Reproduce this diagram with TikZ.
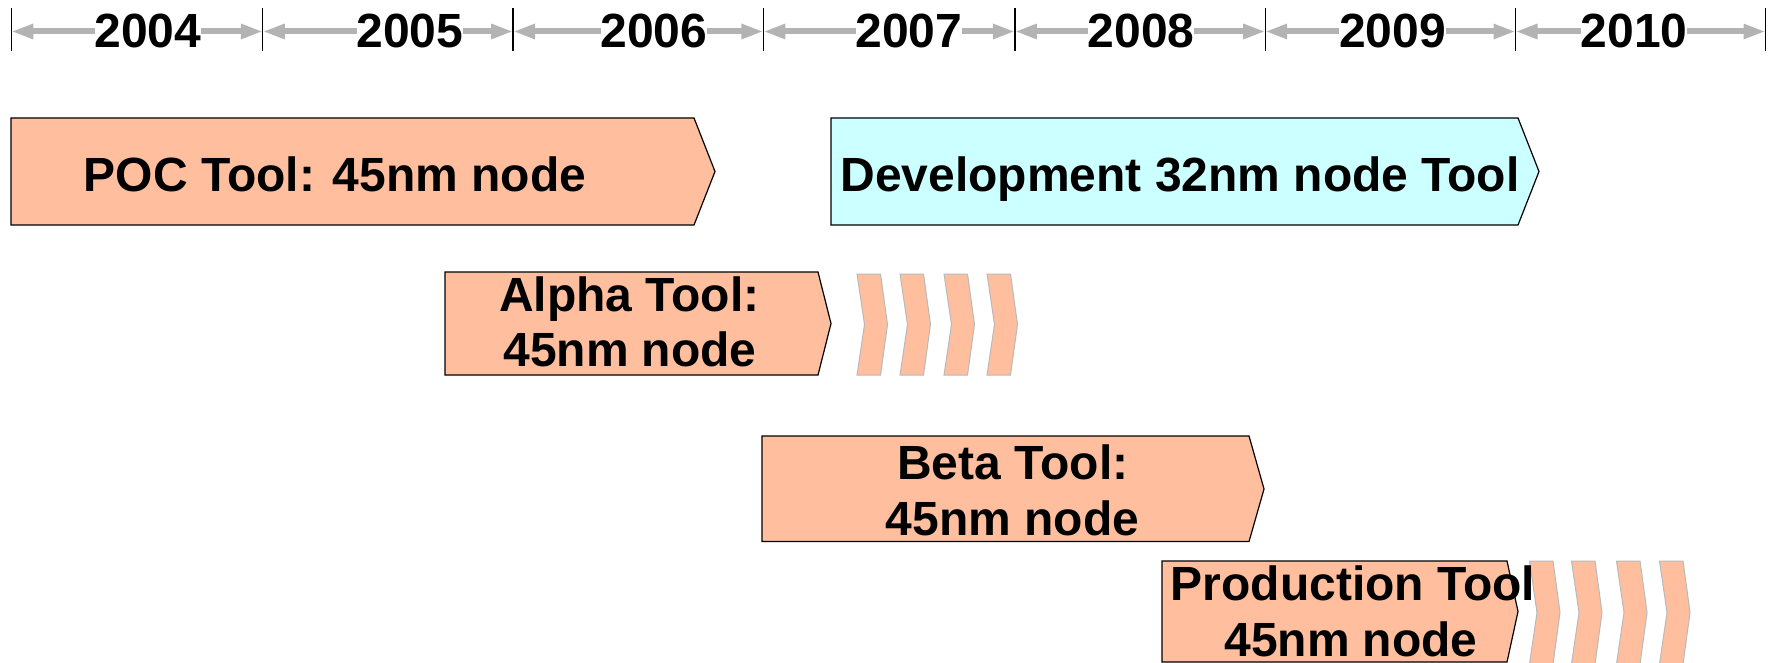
\documentclass[tikz,border=0pt]{standalone}
\usepackage{fontspec}
\setmainfont{Liberation Sans}
\usetikzlibrary{arrows.meta}
\definecolor{peach}{RGB}{255,191,159}
\definecolor{paleCyan}{RGB}{204,255,255}
\definecolor{axisgray}{RGB}{179,179,179}
\definecolor{chevgray}{RGB}{185,185,185}
\newcommand\chevshape[3]{\draw[chevron] (#1,#2) -- ({#1+23.5},#2) -- ({#1+30.5},{(#2+#3)/2}) -- ({#1+23.5},#3) -- (#1,#3) -- ({#1+7.5},{(#2+#3)/2}) -- cycle;}
\begin{document}
\begin{tikzpicture}[x=1pt,y=-1pt,
  bigfont/.style={font=\fontsize{48}{56}\selectfont\bfseries},
  yearlabel/.style={bigfont,fill=white,inner sep=0pt,anchor=base},
  boxtext/.style={bigfont,inner sep=0pt,anchor=base},
  tickline/.style={black,line width=1.3pt},
  spanarrow/.style={axisgray,line width=6pt,{Triangle[length=22pt,width=14pt]}-{Triangle[length=22pt,width=14pt]}},
  phasebox/.style={draw=black,line width=1.2pt,line join=miter},
  chevron/.style={draw=chevgray,line width=1pt,fill=peach}]
\useasboundingbox (0,0) rectangle (1776,663);
\fill[white] (0,0) rectangle (1776,663);
% timeline
\foreach \i/\x in {0/11.3,1/262.8,2/513.1,3/763.4,4/1014.9,5/1265.2,6/1515.5,7/1765.5}{
  \coordinate (t\i) at (\x,31.5);
}
\foreach \i in {0,...,7}{
  \draw[tickline] (t\i) ++(0,-23.5) -- ++(0,43);
}
\foreach \a/\b in {0/1,1/2,2/3,3/4,4/5,5/6,6/7}{
  \draw[spanarrow] (t\a) -- (t\b);
}
\node[yearlabel] (y2004) at (148,48) {2004};
\node[yearlabel] (y2005) at (410,48) {2005};
\node[yearlabel] (y2006) at (654,48) {2006};
\node[yearlabel] (y2007) at (909,48) {2007};
\node[yearlabel] (y2008) at (1141,48) {2008};
\node[yearlabel] (y2009) at (1392.5,48) {2009};
\node[yearlabel] (y2010) at (1634,48) {2010};
% phase boxes
\draw[phasebox,fill=peach] (11,118) -- (694,118) -- (715,171.5) -- (694,225) -- (11,225) -- cycle;
\draw[phasebox,fill=paleCyan] (831,118) -- (1518,118) -- (1539,171.5) -- (1518,225) -- (831,225) -- cycle;
\draw[phasebox,fill=peach] (445,272) -- (818,272) -- (831,323.5) -- (818,375) -- (445,375) -- cycle;
\draw[phasebox,fill=peach] (762,436) -- (1249,436) -- (1264,489) -- (1249,541.5) -- (762,541.5) -- cycle;
\draw[phasebox,fill=peach] (1162,561) -- (1507,561) -- (1518,611.5) -- (1507,662) -- (1162,662) -- cycle;
% chevrons
\chevshape{857}{274}{375}
\chevshape{900}{274}{375}
\chevshape{944}{274}{375}
\chevshape{987}{274}{375}
\chevshape{1529.5}{561}{664}
\chevshape{1571.5}{561}{664}
\chevshape{1616.5}{561}{664}
\chevshape{1659.5}{561}{664}
% texts
\node[boxtext] (poc) at (335,192) {POC Tool: 45nm node};
\node[boxtext] (dev) at (1180,192) {Development 32nm node Tool};
\node[boxtext] (alpha1) at (629.3,311) {Alpha Tool:};
\node[boxtext] (alpha2) at (630,366) {45nm node};
\node[boxtext] (beta1) at (1012.8,479.3) {Beta Tool:};
\node[boxtext] (beta2) at (1012.5,535) {45nm node};
\node[boxtext] (prod1) at (1353,600) {Production Tool};
\node[boxtext] (prod2) at (1351,656.5) {45nm node};
\end{tikzpicture}
\end{document}
